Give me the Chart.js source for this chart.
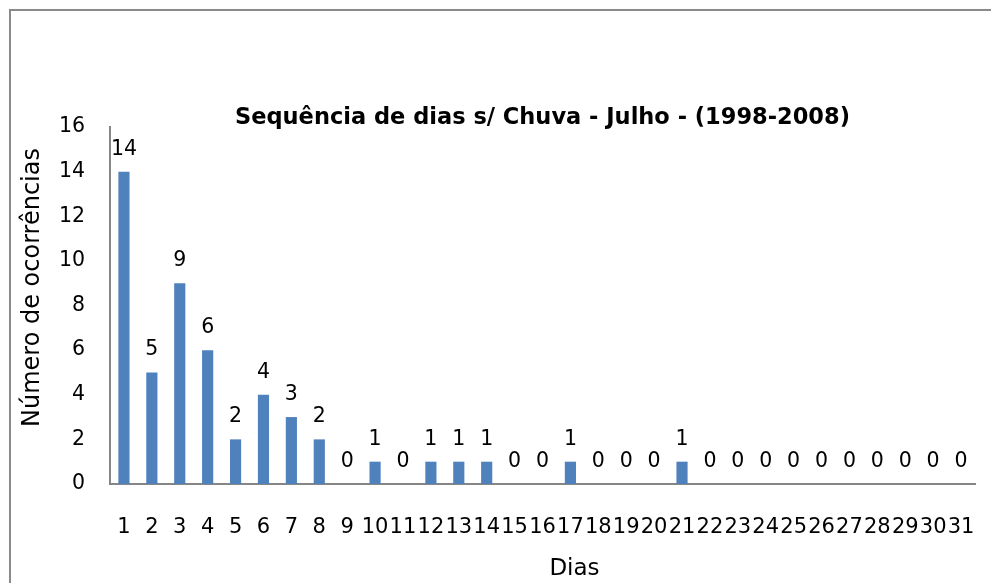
<!DOCTYPE html>
<html>
<head>
<meta charset="utf-8">
<script src="https://cdn.jsdelivr.net/npm/chart.js@4.4.0/dist/chart.umd.min.js"></script>
<style>
html,body{margin:0;padding:0;background:#fff;overflow:hidden;}
canvas{display:block;}
</style>
</head>
<body>
<canvas id="c" width="991" height="583"></canvas>
<script>
// ---- data ----
const categories = ['1','2','3','4','5','6','7','8','9','10','11','12','13','14','15','16','17','18','19','20','21','22','23','24','25','26','27','28','29','30','31'];
const occurrences = [14,5,9,6,2,4,3,2,0,1,0,1,1,1,0,0,1,0,0,0,1,0,0,0,0,0,0,0,0,0,0];
const yMin = 0;
const yMax = 16;
const yStep = 2;
const chartTitle = 'Sequência de dias s/ Chuva - Julho - (1998-2008)';
const xTitle = 'Dias';
const yTitle = 'Número de ocorrências';

Chart.defaults.font.family = '"DejaVu Sans", sans-serif';
Chart.defaults.color = '#000';

const outerFrame = {
  id: 'outerFrame',
  beforeDraw(chart) {
    const ctx = chart.ctx;
    ctx.save();
    ctx.fillStyle = '#fff';
    ctx.fillRect(0, 0, chart.width, chart.height);
    ctx.strokeStyle = '#8a8a8a';
    ctx.lineWidth = 2;
    ctx.beginPath();
    ctx.moveTo(10, chart.height);
    ctx.lineTo(10, 10);
    ctx.lineTo(chart.width, 10);
    ctx.stroke();
    ctx.restore();
  }
};

const valueLabels = {
  id: 'valueLabels',
  afterDatasetsDraw(chart) {
    const ctx = chart.ctx;
    const meta = chart.getDatasetMeta(0);
    const vals = chart.data.datasets[0].data;
    ctx.save();
    ctx.font = '20.5px "DejaVu Sans", sans-serif';
    ctx.fillStyle = '#000';
    ctx.textAlign = 'center';
    ctx.textBaseline = 'alphabetic';
    meta.data.forEach((bar, i) => {
      ctx.fillText(String(vals[i]), bar.x, bar.y - 17);
    });
    ctx.restore();
  }
};

const axisTitles = {
  id: 'axisTitles',
  afterDraw(chart) {
    const ctx = chart.ctx;
    const area = chart.chartArea;
    ctx.save();
    ctx.fillStyle = '#000';
    ctx.textAlign = 'center';
    ctx.textBaseline = 'middle';
    ctx.font = '23px "DejaVu Sans", sans-serif';
    ctx.fillText(xTitle, (area.left + area.right) / 2 + 32, 569);
    ctx.translate(32.7, (area.top + area.bottom) / 2 - 18);
    ctx.rotate(-Math.PI / 2);
    ctx.font = '24px "DejaVu Sans", sans-serif';
    ctx.fillText(yTitle, 0, 0);
    ctx.restore();
  }
};

new Chart(document.getElementById('c'), {
  type: 'bar',
  data: {
    labels: categories,
    datasets: [{
      data: occurrences,
      backgroundColor: '#4F81BD',
      borderWidth: 0,
      categoryPercentage: 1,
      barPercentage: 0.4
    }]
  },
  options: {
    responsive: false,
    animation: false,
    devicePixelRatio: 1,
    layout: { padding: { top: 108.4, left: 10, right: 16, bottom: 0 } },
    plugins: {
      legend: { display: false },
      tooltip: { enabled: false },
      title: {
        display: true,
        text: chartTitle,
        fullSize: false,
        color: '#000',
        font: { size: 22.5, weight: 'bold', lineHeight: 0.827 },
        padding: 0
      }
    },
    scales: {
      x: {
        grid: { display: false, drawTicks: false },
        border: { display: true, color: '#868686', width: 2 },
        ticks: { autoSkip: false, maxRotation: 0, minRotation: 0, padding: 31, color: '#000', font: { size: 21 } },
        afterFit(s) { s.height = 99; s.paddingLeft = 0; s.paddingRight = 0; }
      },
      y: {
        min: yMin,
        max: yMax,
        grid: { display: false, drawTicks: false },
        border: { display: true, color: '#868686', width: 2 },
        ticks: { stepSize: yStep, padding: 25, color: '#000', font: { size: 20.5 } },
        afterFit(s) { s.width = 100; s.paddingTop = 0; s.paddingBottom = 0; }
      }
    }
  },
  plugins: [outerFrame, valueLabels, axisTitles]
});
</script>
</body>
</html>
